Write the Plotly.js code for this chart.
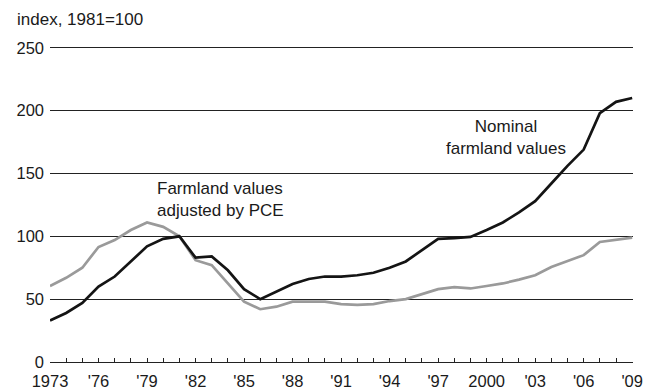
<!DOCTYPE html>
<html>
<head>
<meta charset="utf-8">
<script src="https://cdn.plot.ly/plotly-3.0.1.min.js"></script>
<style>html,body{margin:0;padding:0;background:#fff;}#chart{width:649px;height:390px;}</style>
</head>
<body>
<div id="chart"></div>
<script>
const years = [1973,1974,1975,1976,1977,1978,1979,1980,1981,1982,1983,1984,1985,1986,1987,1988,1989,1990,1991,1992,1993,1994,1995,1996,1997,1998,1999,2000,2001,2002,2003,2004,2005,2006,2007,2008,2009];
const nominal = [33,39,47,60,68,80,92,98,100,83,84,73,58,50,56,62,66,68,68,69,71,75,80,89,98,98.5,99.5,105,111,119,128,142,156,169,198,207,210];
const pceAdjusted = [60.5,67,75,91.5,97,105,111,107.5,100,81,77,62.5,48,42,44,48,48,48,46,45.5,46,48.5,50,54,58,59.5,58.5,60.5,62.5,65.5,69,75.5,80.5,85,95.5,97,99];
const tickYears = [1973,1976,1979,1982,1985,1988,1991,1994,1997,2000,2003,2006,2009];
const tickLabels = ["1973","'76","'79","'82","'85","'88","'91","'94","'97","2000","'03","'06","'09"];
const yTicks = [0,50,100,150,200,250];

const font = {family: "Liberation Sans, Arial, sans-serif", size: 17, color: "#1a1a1a"};
const tickFont = {family: "Liberation Sans, Arial, sans-serif", size: 16.5, color: "#1a1a1a"};

const traces = [
  {x: years, y: pceAdjusted, type: "scatter", mode: "lines", name: "Farmland values adjusted by PCE",
   line: {color: "#9a9a9a", width: 2.7}},
  {x: years, y: nominal, type: "scatter", mode: "lines", name: "Nominal farmland values",
   line: {color: "#141414", width: 2.7}}
];

const layout = {
  width: 649, height: 390,
  margin: {l: 50, r: 16, t: 44, b: 28},
  paper_bgcolor: "#fff", plot_bgcolor: "#fff",
  showlegend: false,
  font: font,
  xaxis: {
    range: [1973, 2009.05], showgrid: false, zeroline: false,
    tickmode: "array", tickvals: tickYears, ticktext: tickLabels,
    ticks: "inside", ticklen: 4, tickwidth: 1, tickcolor: "#222",
    minor: {dtick: 1, tick0: 1973, ticks: "inside", ticklen: 4, tickwidth: 1, tickcolor: "#222", showgrid: false},
    showline: true, linecolor: "#222", linewidth: 1.2,
    tickfont: tickFont, ticklabelstandoff: 4, fixedrange: true
  },
  yaxis: {
    range: [0, 253], tickmode: "array", tickvals: yTicks,
    showgrid: true, gridcolor: "#222", gridwidth: 1.2,
    zeroline: false, showline: false, ticks: "",
    tickfont: tickFont, ticklabelstandoff: 5, fixedrange: true
  },
  annotations: [
    {xref: "paper", yref: "paper", x: -0.06, y: 1.0, yshift: 25, xanchor: "left", yanchor: "middle",
     text: "index, 1981=100", showarrow: false, font: font},
    {x: 2001.2, y: 178.5, xref: "x", yref: "y", text: "Nominal<br>farmland values", showarrow: false,
     align: "center", xanchor: "center", yanchor: "middle", font: font},
    {x: 1979.5, y: 129.5, xref: "x", yref: "y", text: "Farmland values<br>adjusted by PCE", showarrow: false,
     align: "left", xanchor: "left", yanchor: "middle", font: font}
  ]
};

Plotly.newPlot("chart", traces, layout, {displayModeBar: false, staticPlot: true});
</script>
</body>
</html>
